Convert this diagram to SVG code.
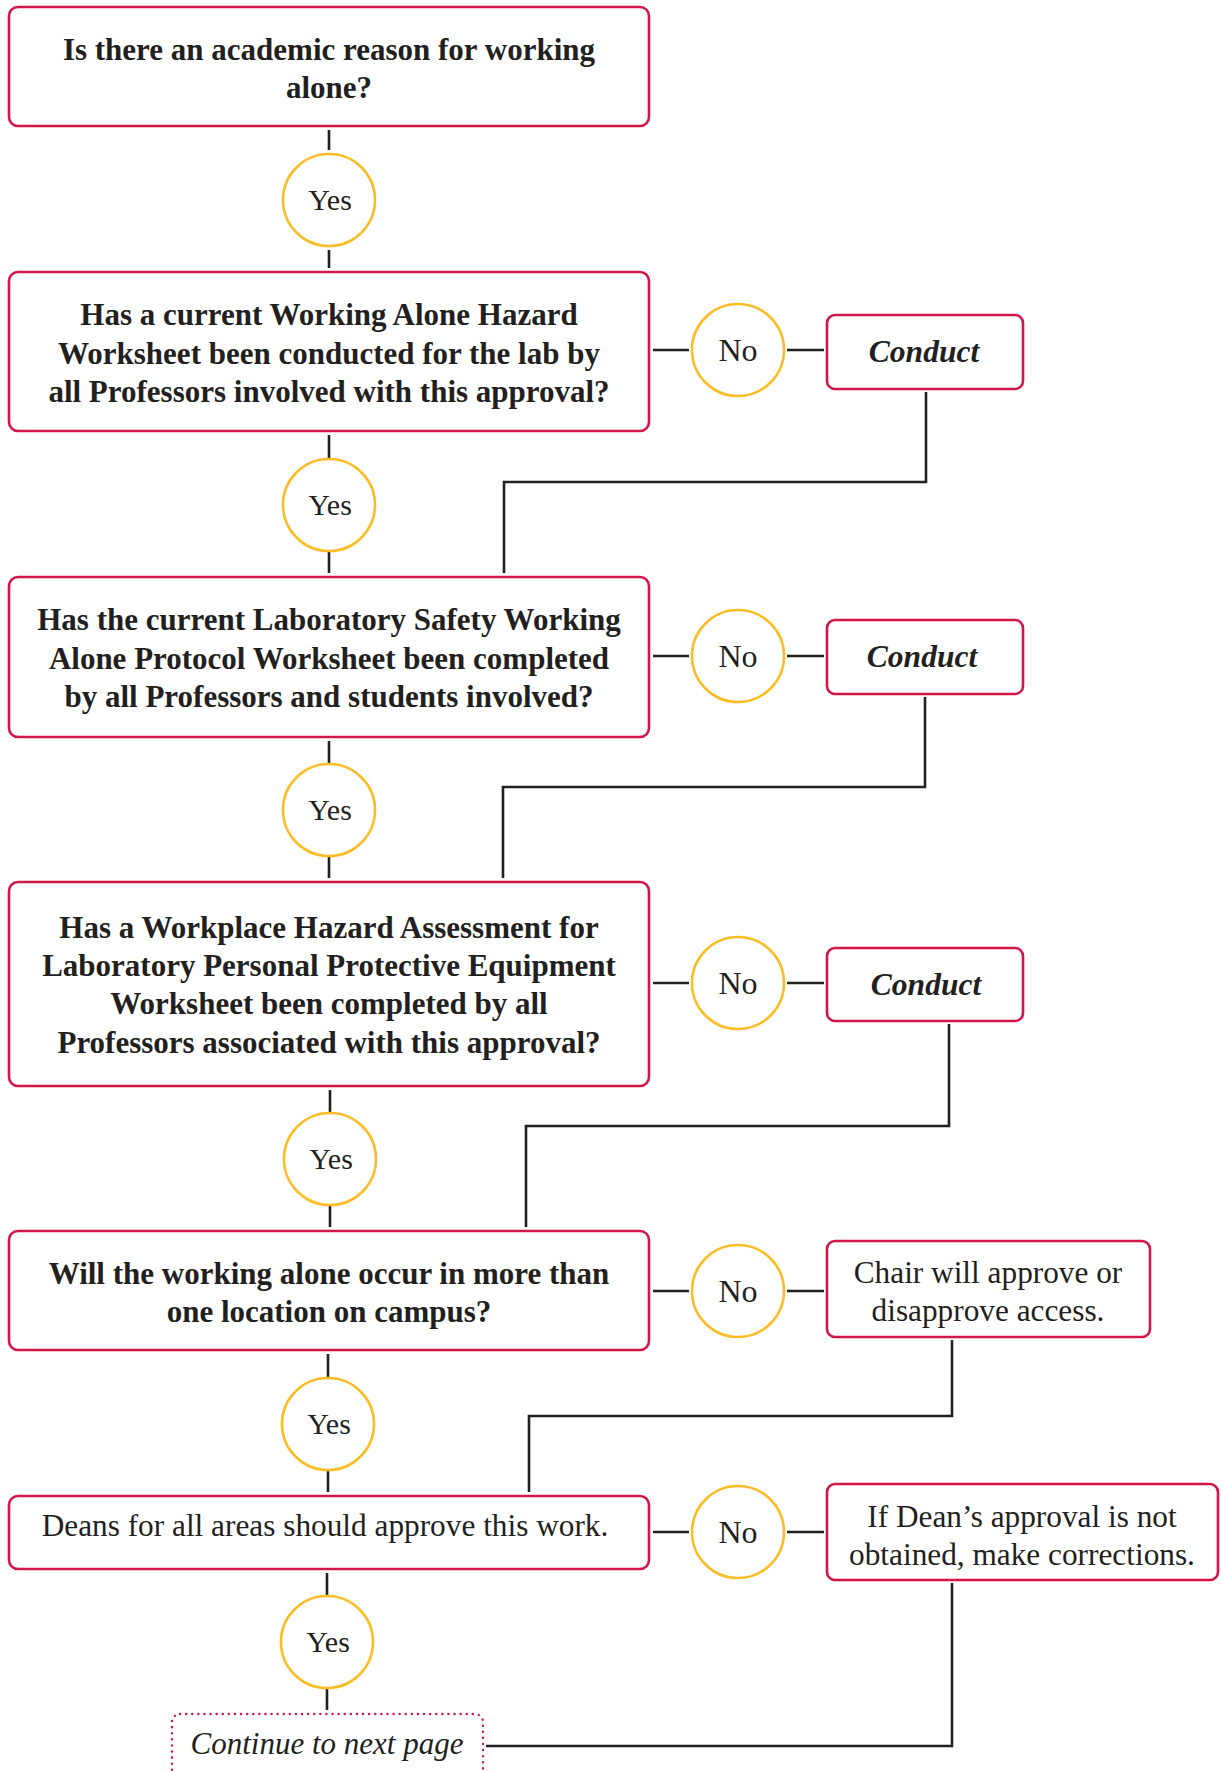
<svg xmlns="http://www.w3.org/2000/svg" width="1221" height="1771" viewBox="0 0 1221 1771">
<style>
.box{fill:#fff;stroke:#d2164a;stroke-width:2.6}
.dot{fill:none;stroke:#d2164a;stroke-width:2.4;stroke-dasharray:0.1 6;stroke-linecap:round}
.circ{fill:#fff;stroke:#fbbd26;stroke-width:2.6}
.ln{fill:none;stroke:#231f20;stroke-width:2.6}
.q{font-family:"Liberation Serif",serif;font-weight:bold;font-size:31px;fill:#231f20;text-anchor:middle}
.t{font-family:"Liberation Serif",serif;font-size:31.3px;fill:#231f20;text-anchor:middle}
.y{font-family:"Liberation Serif",serif;font-size:30px;fill:#231f20;text-anchor:middle}
.n{font-family:"Liberation Serif",serif;font-size:32px;fill:#231f20;text-anchor:middle}
.i{font-family:"Liberation Serif",serif;font-style:italic;font-weight:bold;font-size:31.5px;fill:#231f20;text-anchor:middle}
.c{font-family:"Liberation Serif",serif;font-style:italic;font-size:31px;fill:#231f20;text-anchor:middle}
</style>
<rect width="1221" height="1771" fill="#fff"/>
<g id="connectors">
<path class="ln" d="M329 130V150M329 250V268"/>
<path class="ln" d="M329 435V458M329 552V573"/>
<path class="ln" d="M329 741V763M329 857V878"/>
<path class="ln" d="M330 1090V1112M330 1206V1227"/>
<path class="ln" d="M328 1354V1377M328 1471V1492"/>
<path class="ln" d="M327 1573V1595M327 1689V1710"/>
<path class="ln" d="M653 350H689M787 350H824"/>
<path class="ln" d="M653 656H689M787 656H824"/>
<path class="ln" d="M653 983H689M787 983H824"/>
<path class="ln" d="M653 1291H689M787 1291H824"/>
<path class="ln" d="M653 1532H689M787 1532H824"/>
<path class="ln" d="M926 392V482H504V573"/>
<path class="ln" d="M925 697V787H503V878"/>
<path class="ln" d="M949 1024V1126H526V1227"/>
<path class="ln" d="M952 1340V1416H529V1492"/>
<path class="ln" d="M952 1583V1746H486"/>
</g>
<g id="q1"><rect class="box" x="9" y="7" width="640" height="119" rx="9"/>
<text class="q" x="329" y="60">Is there an academic reason for working</text>
<text class="q" x="329" y="98">alone?</text></g>
<g id="yes1"><circle class="circ" cx="329" cy="200" r="46"/><text class="y" x="330" y="210">Yes</text></g>
<g id="q2"><rect class="box" x="9" y="272" width="640" height="159" rx="9"/>
<text class="q" x="329" y="325">Has a current Working Alone Hazard</text>
<text class="q" x="329" y="364">Worksheet been conducted for the lab by</text>
<text class="q" x="329" y="402">all Professors involved with this approval?</text></g>
<g id="no1"><circle class="circ" cx="738" cy="350" r="46"/><text class="n" x="738" y="361">No</text></g>
<g id="c1"><rect class="box" x="827" y="315" width="196" height="74" rx="8"/><text class="i" x="924" y="362">Conduct</text></g>
<g id="yes2"><circle class="circ" cx="329" cy="505" r="46"/><text class="y" x="330" y="515">Yes</text></g>
<g id="q3"><rect class="box" x="9" y="577" width="640" height="160" rx="9"/>
<text class="q" x="329" y="630">Has the current Laboratory Safety Working</text>
<text class="q" x="329" y="669">Alone Protocol Worksheet been completed</text>
<text class="q" x="329" y="707">by all Professors and students involved?</text></g>
<g id="no2"><circle class="circ" cx="738" cy="656" r="46"/><text class="n" x="738" y="667">No</text></g>
<g id="c2"><rect class="box" x="827" y="620" width="196" height="74" rx="8"/><text class="i" x="922" y="667">Conduct</text></g>
<g id="yes3"><circle class="circ" cx="329" cy="810" r="46"/><text class="y" x="330" y="820">Yes</text></g>
<g id="q4"><rect class="box" x="9" y="882" width="640" height="204" rx="9"/>
<text class="q" x="329" y="938">Has a Workplace Hazard Assessment for</text>
<text class="q" x="329" y="976">Laboratory Personal Protective Equipment</text>
<text class="q" x="329" y="1014">Worksheet been completed by all</text>
<text class="q" x="329" y="1053">Professors associated with this approval?</text></g>
<g id="no3"><circle class="circ" cx="738" cy="983" r="46"/><text class="n" x="738" y="994">No</text></g>
<g id="c3"><rect class="box" x="827" y="948" width="196" height="73" rx="8"/><text class="i" x="926" y="995">Conduct</text></g>
<g id="yes4"><circle class="circ" cx="330" cy="1159" r="46"/><text class="y" x="331" y="1169">Yes</text></g>
<g id="q5"><rect class="box" x="9" y="1231" width="640" height="119" rx="9"/>
<text class="q" x="329" y="1284">Will the working alone occur in more than</text>
<text class="q" x="329" y="1322">one location on campus?</text></g>
<g id="no4"><circle class="circ" cx="738" cy="1291" r="46"/><text class="n" x="738" y="1302">No</text></g>
<g id="chair"><rect class="box" x="827" y="1241" width="323" height="96" rx="8"/>
<text class="t" x="988" y="1283">Chair will approve or</text>
<text class="t" x="988" y="1321">disapprove access.</text></g>
<g id="yes5"><circle class="circ" cx="328" cy="1424" r="46"/><text class="y" x="329" y="1434">Yes</text></g>
<g id="q6"><rect class="box" x="9" y="1496" width="640" height="73" rx="9"/>
<text class="t" x="325" y="1536">Deans for all areas should approve this work.</text></g>
<g id="no5"><circle class="circ" cx="738" cy="1532" r="46"/><text class="n" x="738" y="1543">No</text></g>
<g id="dean"><rect class="box" x="827" y="1484" width="391" height="96" rx="8"/>
<text class="t" x="1022" y="1527">If Dean’s approval is not</text>
<text class="t" x="1022" y="1565">obtained, make corrections.</text></g>
<g id="yes6"><circle class="circ" cx="327" cy="1642" r="46"/><text class="y" x="328" y="1652">Yes</text></g>
<g id="next"><rect class="dot" x="172" y="1714" width="311" height="80" rx="8"/>
<text class="c" x="327" y="1754">Continue to next page</text></g>
</svg>
